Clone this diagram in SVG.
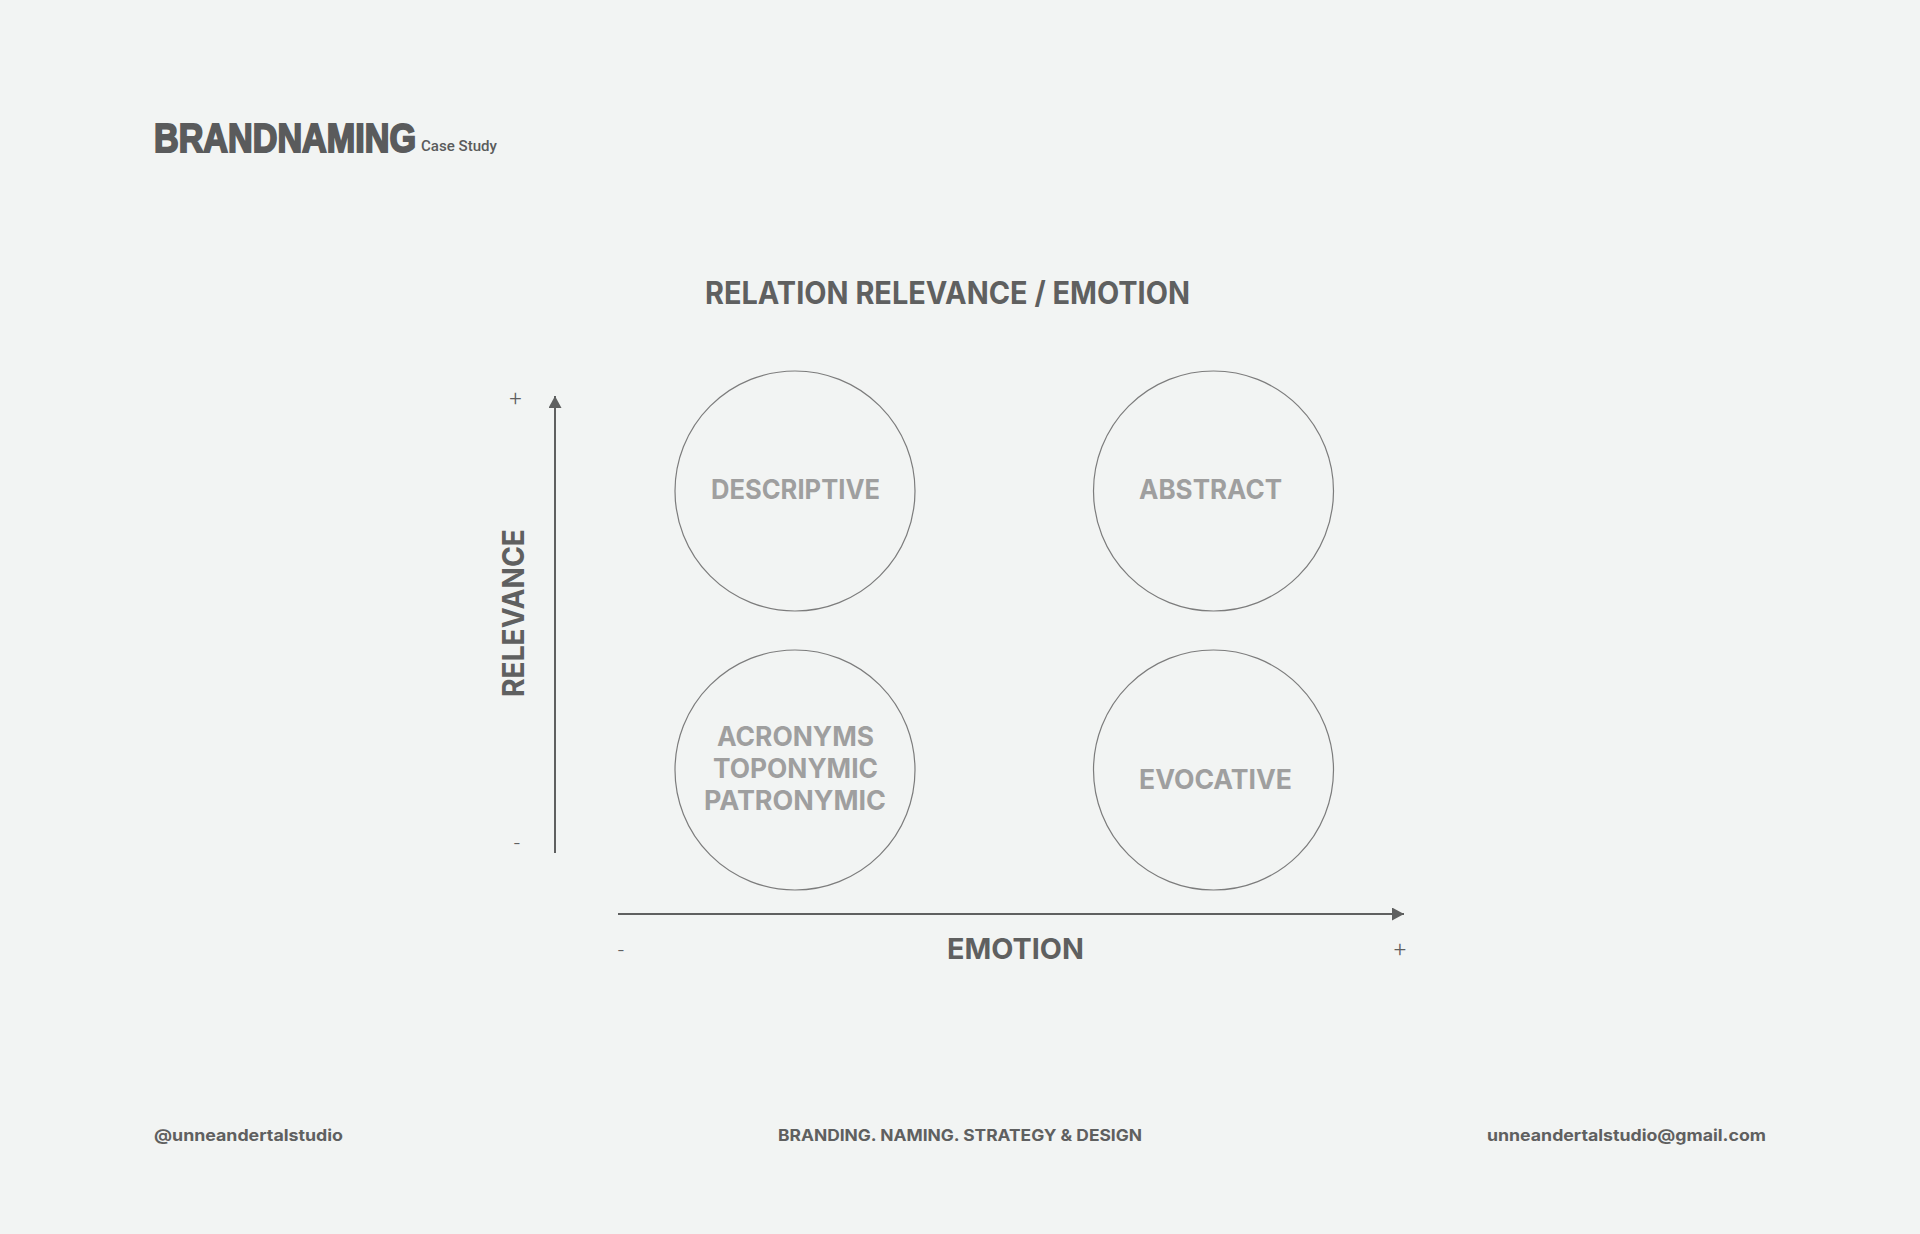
<svg xmlns="http://www.w3.org/2000/svg" width="1920" height="1234" viewBox="0 0 1920 1234">
<style>
.h{font-family:"Inter","Open Sans","Liberation Sans",sans-serif;font-weight:700;fill:#5f6060}
.l{font-family:"Inter","Open Sans","Liberation Sans",sans-serif;font-weight:700;fill:#9f9f9f;font-size:27px}
.s{font-family:"Inter","Liberation Sans",sans-serif;font-weight:700;fill:#5f6060;font-size:16px}
.p{font-family:"Roboto","Liberation Sans",sans-serif;font-weight:300;fill:#5f6060;font-size:22px;text-anchor:middle}
.c{fill:none;stroke:#7c7c7c;stroke-width:1.2}
.a{stroke:#5f6060;stroke-width:2;fill:none}
</style>
<defs>
<marker id="arr" markerUnits="userSpaceOnUse" markerWidth="14" markerHeight="14" refX="12" refY="6.5" orient="auto"><path d="M0 0L12 6.5L0 13Z" fill="#5f6060"/></marker>
</defs>
<rect width="1920" height="1234" fill="#f2f4f3"/>
<g id="header">
<text x="154" y="152" font-family="Liberation Sans, sans-serif" font-weight="700" font-size="40" fill="#5a5b5c" stroke="#5a5b5c" stroke-width="2" textLength="262" lengthAdjust="spacingAndGlyphs">BRANDNAMING</text>
<text x="421" y="151" font-family="Roboto, sans-serif" font-weight="500" font-size="15.5" fill="#5a5b5c" textLength="76" lengthAdjust="spacingAndGlyphs">Case Study</text>
</g>
<text id="title" class="h" x="705" y="304" font-size="31" textLength="485" lengthAdjust="spacingAndGlyphs">RELATION RELEVANCE / EMOTION</text>
<g id="connectors">
<line class="a" x1="555" y1="853" x2="555" y2="396" marker-end="url(#arr)"/>
<line class="a" x1="618" y1="914" x2="1404" y2="914" marker-end="url(#arr)"/>
</g>
<g id="descriptive"><circle class="c" cx="795" cy="491" r="120"/><text class="l" x="711" y="499" textLength="169" lengthAdjust="spacingAndGlyphs">DESCRIPTIVE</text></g>
<g id="abstract"><circle class="c" cx="1213.5" cy="491" r="120"/><text class="l" x="1139" y="499" textLength="143" lengthAdjust="spacingAndGlyphs">ABSTRACT</text></g>
<g id="names"><circle class="c" cx="795" cy="770" r="120"/>
<text class="l" x="717" y="746" textLength="157" lengthAdjust="spacingAndGlyphs">ACRONYMS</text>
<text class="l" x="713" y="778" textLength="165" lengthAdjust="spacingAndGlyphs">TOPONYMIC</text>
<text class="l" x="704" y="810" textLength="182" lengthAdjust="spacingAndGlyphs">PATRONYMIC</text></g>
<g id="evocative"><circle class="c" cx="1213.5" cy="770" r="120"/><text class="l" x="1139" y="789" textLength="153" lengthAdjust="spacingAndGlyphs">EVOCATIVE</text></g>
<g id="axis-y">
<text class="h" font-size="30" transform="translate(524 697) rotate(-90)" textLength="168" lengthAdjust="spacingAndGlyphs">RELEVANCE</text>
<text class="p" x="515.5" y="406">+</text>
<text class="p" x="517" y="851">-</text>
</g>
<g id="axis-x">
<text class="h" x="947" y="959" font-size="29" textLength="137" lengthAdjust="spacingAndGlyphs">EMOTION</text>
<text class="p" x="621" y="958">-</text>
<text class="p" x="1400" y="957">+</text>
</g>
<g id="footer">
<text class="s" x="154" y="1141" textLength="189" lengthAdjust="spacingAndGlyphs">@unneandertalstudio</text>
<text class="s" x="778" y="1141" textLength="364" lengthAdjust="spacingAndGlyphs">BRANDING. NAMING. STRATEGY &amp; DESIGN</text>
<text class="s" x="1487" y="1141" textLength="279" lengthAdjust="spacingAndGlyphs">unneandertalstudio@gmail.com</text>
</g>
</svg>
